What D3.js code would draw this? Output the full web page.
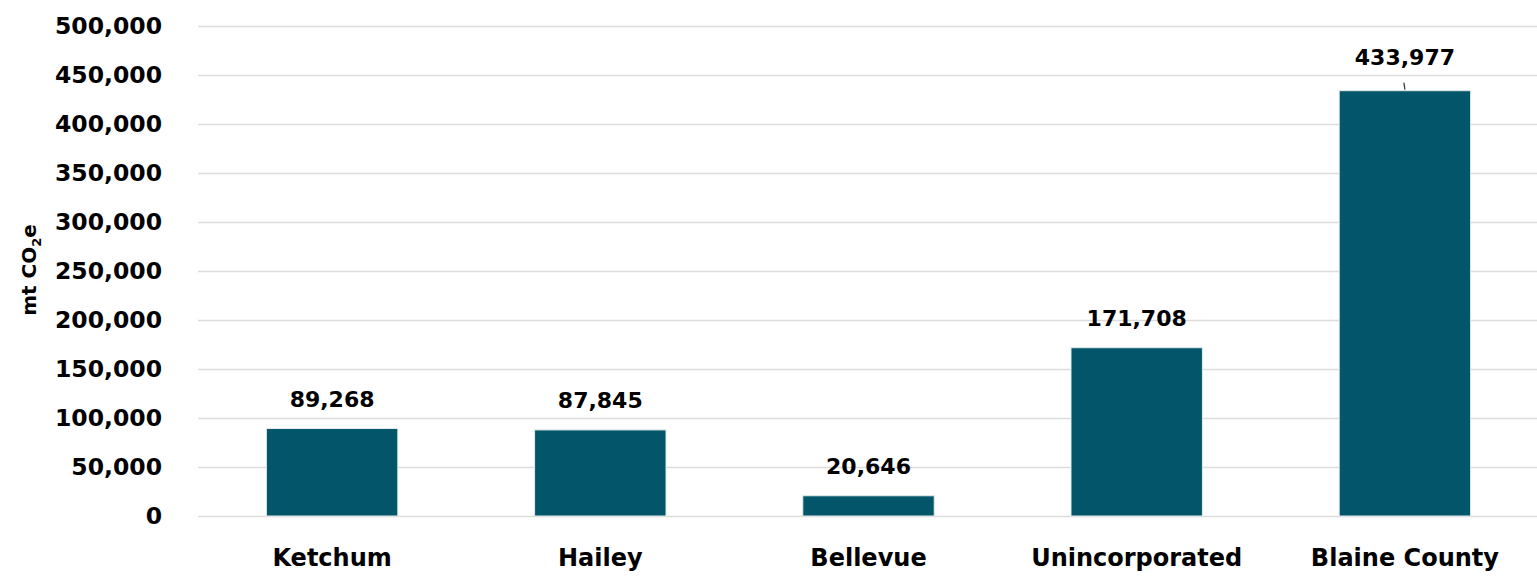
<!DOCTYPE html>
<html><head><meta charset="utf-8">
<script src="https://cdn.jsdelivr.net/npm/d3@7/dist/d3.min.js"></script>
<style>body{margin:0;background:#fff}svg{display:block}text{font-family:"DejaVu Sans",sans-serif;font-weight:bold;fill:#000}</style>
</head><body>
<svg id="c" width="1537" height="577"></svg>
<script>
const categories = ["Ketchum","Hailey","Bellevue","Unincorporated","Blaine County"];
const values = [89268, 87845, 20646, 171708, 433977];
const yTicks = [0,50000,100000,150000,200000,250000,300000,350000,400000,450000,500000];

const svg = d3.select("#c");
const x = d3.scaleBand().domain(categories).range([198,1539]).paddingInner(0.51).paddingOuter(0.255);
const y = d3.scaleLinear().domain([0,500000]).range([516,26]);
const fmt = d3.format(",");

const yAxis = svg.append("g").attr("transform","translate(198,0)")
  .call(d3.axisLeft(y).tickValues(yTicks).tickFormat(fmt).tickSize(-1341).tickPadding(36));
yAxis.select(".domain").remove();
yAxis.selectAll(".tick line").attr("stroke","#dcdcdc").attr("stroke-width",1.5);
yAxis.selectAll(".tick text").style("font-size","23.5px").attr("fill","#000").attr("font-family",null);

const xAxis = svg.append("g").attr("transform","translate(0,516)")
  .call(d3.axisBottom(x).tickSize(0).tickPadding(33));
xAxis.select(".domain").remove();
xAxis.selectAll(".tick text").style("font-size","24px").attr("fill","#000").attr("font-family",null);

svg.append("g").selectAll("rect").data(values).join("rect")
  .attr("x",(d,i)=>x(categories[i])).attr("width",x.bandwidth())
  .attr("y",d=>y(d)).attr("height",d=>y(0)-y(d))
  .attr("fill","#03566a").attr("stroke","#e3eaec").attr("stroke-width",1);

const maxV = d3.max(values);
svg.append("g").selectAll("text").data(values).join("text")
  .attr("x",(d,i)=>x(categories[i])+x.bandwidth()/2)
  .attr("y",d=>y(d)-(d===maxV?26:22))
  .attr("text-anchor","middle").style("font-size","22px").text(d=>fmt(d));

svg.append("g").selectAll("line").data(values.filter(d=>d===maxV)).join("line")
  .attr("x1",(d)=>x(categories[values.indexOf(d)])+x.bandwidth()/2-1)
  .attr("x2",(d)=>x(categories[values.indexOf(d)])+x.bandwidth()/2)
  .attr("y1",d=>y(d)-8).attr("y2",d=>y(d)-1)
  .attr("stroke","#333").attr("stroke-width",1.2);

const yl = svg.append("text").attr("transform","translate(36,270) rotate(-90)")
  .attr("text-anchor","middle").style("font-size","20px");
yl.append("tspan").text("mt CO");
yl.append("tspan").text("2").style("font-size","13px").attr("dy",5);
yl.append("tspan").text("e").attr("dy",-5);
</script>
</body></html>
